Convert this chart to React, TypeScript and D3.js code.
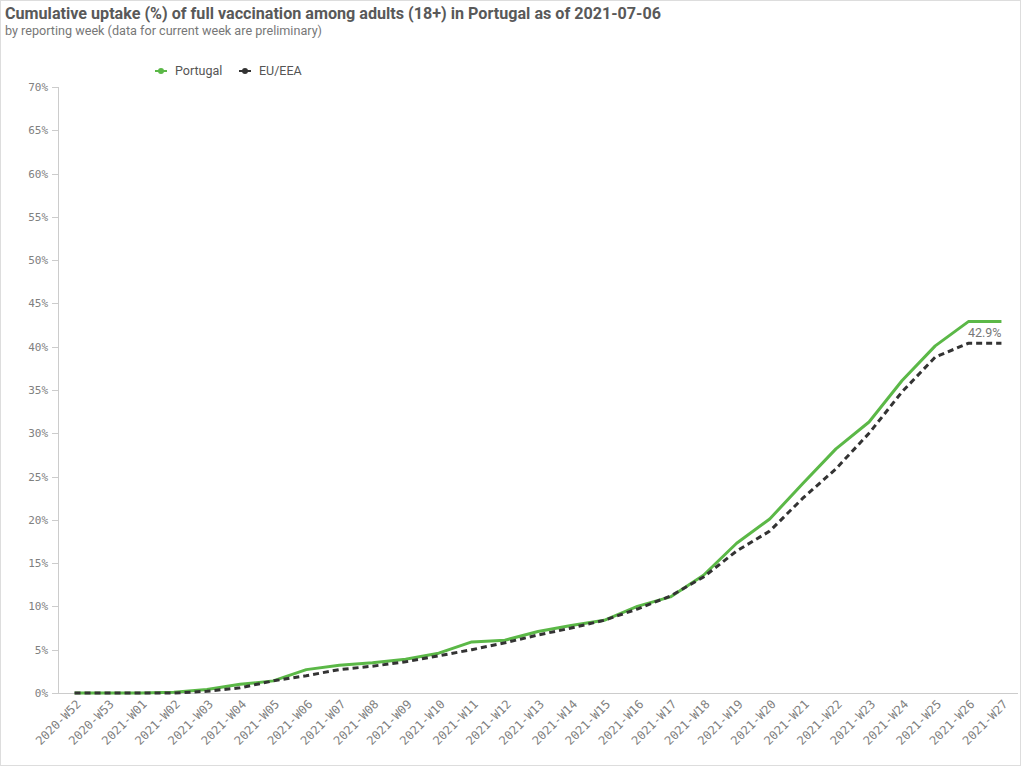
import React from "react";
import * as d3 from "d3";

const weeks = [
  "2020-W52", "2020-W53", "2021-W01", "2021-W02", "2021-W03", "2021-W04", "2021-W05",
  "2021-W06", "2021-W07", "2021-W08", "2021-W09", "2021-W10", "2021-W11", "2021-W12",
  "2021-W13", "2021-W14", "2021-W15", "2021-W16", "2021-W17", "2021-W18", "2021-W19",
  "2021-W20", "2021-W21", "2021-W22", "2021-W23", "2021-W24", "2021-W25", "2021-W26",
  "2021-W27",
];
const portugal = [
  0, 0, 0, 0.1, 0.4, 1.0, 1.4, 2.7, 3.2, 3.5, 3.9, 4.6, 5.9, 6.1, 7.1, 7.8, 8.4, 10.0,
  11.1, 13.6, 17.3, 20.1, 24.2, 28.2, 31.3, 36.1, 40.1, 42.9, 42.9,
];
const euEea = [
  0, 0, 0, 0, 0.2, 0.6, 1.4, 2.0, 2.7, 3.1, 3.6, 4.3, 5.0, 5.8, 6.7, 7.5, 8.4, 9.7,
  11.2, 13.4, 16.4, 18.7, 22.5, 25.9, 30.0, 34.8, 38.8, 40.4, 40.4,
];
const yTicks = [0, 5, 10, 15, 20, 25, 30, 35, 40, 45, 50, 55, 60, 65, 70];

const W = 1024;
const H = 768;
const left = 58;
const right = 1018;
const top = 87;
const bottom = 693;

export default function App() {
  const x = d3.scalePoint<string>().domain(weeks).range([left, right]).padding(0.5);
  const y = d3.scaleLinear().domain([0, 70]).range([bottom, top]);
  const line = d3
    .line<number>()
    .x((_, i) => x(weeks[i]) as number)
    .y((d) => y(d));

  const mono = "'DejaVu Sans Mono', monospace";
  const sans = "Roboto, 'Noto Sans', sans-serif";
  const green = "#5bb847";
  const dark = "#333333";
  const lastX = x(weeks[weeks.length - 1]) as number;
  const lastVal = portugal[portugal.length - 1];

  return (
    <div style={{ position: "absolute", left: 0, top: 0 }}>
      <svg width={W} height={H} style={{ display: "block", background: "#fff" }}>
        <rect x={0.5} y={0.5} width={1020} height={765} fill="none" stroke="#dddddd" />
        <text x={5} y={19} fontFamily={sans} fontWeight={700} fontSize={16} fill="#595959"
          textLength={656} lengthAdjust="spacingAndGlyphs">
          Cumulative uptake (%) of full vaccination among adults (18+) in Portugal as of 2021-07-06
        </text>
        <text x={5} y={35} fontFamily={sans} fontSize={12} fill="#777777"
          textLength={317} lengthAdjust="spacingAndGlyphs">
          by reporting week (data for current week are preliminary)
        </text>

        {/* legend */}
        <g fontFamily={sans} fontSize={12.5} fill="#555">
          <line x1={155} x2={167} y1={71} y2={71} stroke={green} strokeWidth={2} />
          <circle cx={161} cy={71} r={3} fill={green} />
          <text x={175} y={75}>Portugal</text>
          <line x1={239} x2={251} y1={71} y2={71} stroke={dark} strokeWidth={2} />
          <circle cx={245} cy={71} r={3} fill={dark} />
          <text x={259} y={75}>EU/EEA</text>
        </g>

        {/* y axis */}
        <line x1={left + 0.5} x2={left + 0.5} y1={top} y2={bottom} stroke="#cccccc" />
        {yTicks.map((t) => (
          <g key={t} transform={`translate(0,${Math.round(y(t)) + 0.5})`}>
            <line x1={left - 6} x2={left} stroke="#cccccc" />
            <text x={left - 10} dy="0.35em" textAnchor="end" fontFamily={mono} fontSize={11} fill="#808080">
              {t}%
            </text>
          </g>
        ))}

        {/* x axis */}
        <line x1={left} x2={right} y1={bottom + 0.5} y2={bottom + 0.5} stroke="#cccccc" />
        {weeks.map((w) => (
          <text key={w}
            transform={`translate(${(x(w) as number) + 4},${bottom + 9}) rotate(-45)`}
            textAnchor="end" dy="0.35em" fontFamily={mono} fontSize={12} fill="#808080">
            {w}
          </text>
        ))}

        {/* lines */}
        <path d={line(portugal) as string} fill="none" stroke={green} strokeWidth={3} strokeLinejoin="round" />
        <path d={line(euEea) as string} fill="none" stroke={dark} strokeWidth={3} strokeDasharray="6,4" />

        <text x={lastX} y={y(lastVal) + 15} textAnchor="end" fontFamily={sans} fontSize={12.5} fill="#777">
          {lastVal.toFixed(1)}%
        </text>
      </svg>
    </div>
  );
}
